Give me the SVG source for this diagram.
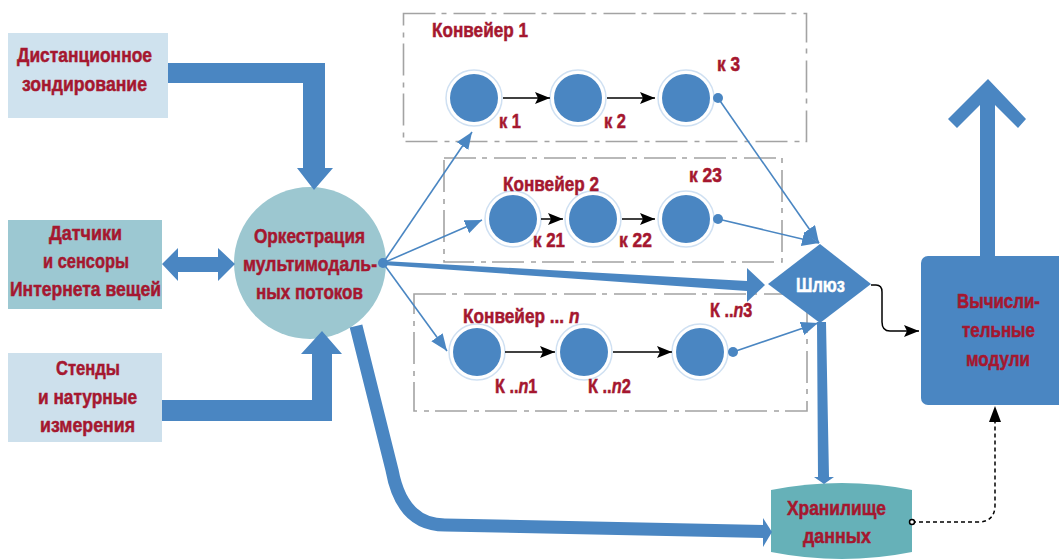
<svg xmlns="http://www.w3.org/2000/svg" width="1059" height="560" viewBox="0 0 1059 560">
<defs>
<marker id="bk" markerUnits="userSpaceOnUse" markerWidth="16" markerHeight="14" refX="15" refY="7" orient="auto"><path d="M0 1L15 7L0 13L3 7Z" fill="#000"/></marker>
<marker id="bl" markerUnits="userSpaceOnUse" markerWidth="18" markerHeight="16" refX="17" refY="7" orient="auto"><path d="M0 0L17 7L0 14Z" fill="#4a86c2"/></marker>
</defs>
<style>
text{font-family:"Liberation Sans",Arial,sans-serif;font-weight:700;font-size:20.5px;fill:#a5172f;stroke:#a5172f;stroke-width:.5;text-anchor:start}
text.w{fill:#fff;stroke:#fff}
.f{fill:#4a86c2}
.box{fill:none;stroke:#a3a3a3;stroke-width:1.6;stroke-dasharray:32 6 5 7}
.thin{fill:none;stroke:#4a86c2;stroke-width:1.6;marker-end:url(#bl)}
.blk{fill:none;stroke:#000;stroke-width:1.5;marker-end:url(#bk)}
.ring{fill:#fff;stroke:#cfe0f2;stroke-width:1.5}
</style>
<rect width="1059" height="560" fill="#fff"/>
<g id="conveyor-boxes">
<rect class="box" x="403.500" y="13.500" width="403" height="128"/>
<rect class="box" x="444" y="158" width="338" height="104"/>
<rect class="box" x="414" y="294" width="393" height="117"/>
</g>
<g id="remote"><rect x="8" y="33" width="160" height="85" fill="#cfe2ee"/><text x="17" y="62" textLength="135" lengthAdjust="spacingAndGlyphs">Дистанционное</text><text x="22" y="91" textLength="125" lengthAdjust="spacingAndGlyphs">зондирование</text></g>
<g id="sensors"><rect x="8" y="220" width="154" height="89" fill="#9cc8d2"/><text x="49" y="240" textLength="73" lengthAdjust="spacingAndGlyphs">Датчики</text><text x="43" y="268" textLength="86" lengthAdjust="spacingAndGlyphs">и сенсоры</text><text x="10" y="296" textLength="151" lengthAdjust="spacingAndGlyphs">Интернета вещей</text></g>
<g id="stands"><rect x="8" y="353" width="154" height="89" fill="#cde0ec"/><text x="56" y="375" textLength="64" lengthAdjust="spacingAndGlyphs">Стенды</text><text x="38" y="404" textLength="99" lengthAdjust="spacingAndGlyphs">и натурные</text><text x="40" y="432" textLength="95" lengthAdjust="spacingAndGlyphs">измерения</text></g>
<g id="orchestration"><circle cx="310" cy="263" r="76" fill="#9cc7d0"/><text x="254" y="243" textLength="111" lengthAdjust="spacingAndGlyphs">Оркестрация</text><text x="243" y="271" textLength="134" lengthAdjust="spacingAndGlyphs">мультимодаль-</text><text x="256" y="299" textLength="107" lengthAdjust="spacingAndGlyphs">ных потоков</text></g>
<g id="conveyor1"><text x="432" y="37" textLength="96" lengthAdjust="spacingAndGlyphs">Конвейер 1</text>
<g id="k1"><circle class="ring" cx="474" cy="98" r="28"/><circle class="f" cx="474" cy="98" r="24"/><text x="499" y="128" textLength="22" lengthAdjust="spacingAndGlyphs">к 1</text></g>
<g id="k2"><circle class="ring" cx="578" cy="98" r="28"/><circle class="f" cx="578" cy="98" r="24"/><text x="604" y="128" textLength="22" lengthAdjust="spacingAndGlyphs">к 2</text></g>
<g id="k3"><circle class="ring" cx="686" cy="98" r="28"/><circle class="f" cx="686" cy="98" r="24"/><circle class="f" cx="718" cy="98" r="5"/><text x="717" y="71" textLength="23" lengthAdjust="spacingAndGlyphs">к 3</text></g></g>
<g id="conveyor2">
<g id="k21"><circle class="ring" cx="513" cy="219" r="28"/><circle class="f" cx="513" cy="219" r="24"/></g>
<g id="k22"><circle class="ring" cx="593" cy="219" r="28"/><circle class="f" cx="593" cy="219" r="24"/></g>
<g id="k23"><circle class="ring" cx="686" cy="219" r="28"/><circle class="f" cx="686" cy="219" r="24"/><circle class="f" cx="718" cy="219" r="5"/></g>
<text x="503" y="191" textLength="96" lengthAdjust="spacingAndGlyphs">Конвейер 2</text><text x="533" y="247" textLength="32" lengthAdjust="spacingAndGlyphs">к 21</text><text x="619" y="247" textLength="33" lengthAdjust="spacingAndGlyphs">к 22</text><text x="689" y="182" textLength="33" lengthAdjust="spacingAndGlyphs">к 23</text></g>
<g id="conveyorn">
<g id="kn1"><circle class="ring" cx="477" cy="352" r="28"/><circle class="f" cx="477" cy="352" r="24"/></g>
<g id="kn2"><circle class="ring" cx="584" cy="352" r="28"/><circle class="f" cx="584" cy="352" r="24"/></g>
<g id="kn3"><circle class="ring" cx="700" cy="352" r="28"/><circle class="f" cx="700" cy="352" r="24"/><circle class="f" cx="733" cy="352" r="5"/></g>
<text transform="translate(463 323) scale(.84 1)">Конвейер ... <tspan font-style="italic">n</tspan></text><text transform="translate(495 393) scale(.79 1)">К ..<tspan font-style="italic">n</tspan>1</text><text transform="translate(588 393) scale(.8 1)">К ..<tspan font-style="italic">n</tspan>2</text><text transform="translate(710 317) scale(.79 1)">К ..<tspan font-style="italic">n</tspan>3</text></g>
<g id="gateway"><path class="f" d="M768 284L820 244L871 284L820 323Z"/><text class="w" x="796" y="292" textLength="49" lengthAdjust="spacingAndGlyphs">Шлюз</text></g>
<g id="compute"><rect x="921" y="256" width="150" height="149" rx="7" fill="#4a86c2"/><text x="957" y="308" textLength="83" lengthAdjust="spacingAndGlyphs">Вычисли-</text><text x="962" y="337" textLength="73" lengthAdjust="spacingAndGlyphs">тельные</text><text x="966" y="366" textLength="64" lengthAdjust="spacingAndGlyphs">модули</text></g>
<g id="storage"><path d="M771 490Q842 476 912 490V552Q842 566 771 552Z" fill="#66b1b8"/><text x="787" y="515" textLength="99" lengthAdjust="spacingAndGlyphs">Хранилище</text><text x="803" y="543" textLength="68" lengthAdjust="spacingAndGlyphs">данных</text></g>
<g id="connectors">
<path class="f" d="M168 63H325V168H333L314 190L297 168H303V83H168Z"/>
<path class="f" d="M162 400H312V354H301L322 331L342 354H332V421H162Z"/>
<path class="f" d="M162 264L178 248V257H218V248L235 264L218 281V272H178V281Z"/>
<path d="M356 326L392 470Q402 525 445 525L764 531.500" fill="none" stroke="#4a86c2" stroke-width="13"/>
<path class="f" d="M763 518L772 532L763 547Z"/>
<path class="f" d="M383 261L747 281V291L383 265Z"/>
<path class="f" d="M747 268L765 285L747 302Z"/>
<circle class="f" cx="383" cy="263" r="5"/>
<path class="thin" d="M383 263L472 132"/>
<path class="thin" d="M383 263L482 220"/>
<path class="thin" d="M383 263L447 351"/>
<path class="thin" d="M718 98L819 243"/>
<path class="thin" d="M718 219L819 243"/>
<path class="thin" d="M733 352L818 323"/>
<path class="f" d="M817 322H826L829 477H834L824 484L814 477H818Z"/>
<path class="f" d="M980 258V105L957 128L948 119L988 79L1026 119L1018 128L995 105V258Z"/>
<path class="blk" d="M871 285H876Q882 285 882 292V322Q882 331 890 331H919"/>
<path d="M912 522H978Q995 522 995 505V420" fill="none" stroke="#000" stroke-width="1.5" stroke-dasharray="4 3"/>
<path d="M989 422L995 406L1001 422Z" fill="#000"/>
<circle cx="912" cy="522" r="2.500" fill="#fff" stroke="#000" stroke-width="1.500"/>
<path class="blk" d="M503 98H550"/>
<path class="blk" d="M607 98H655"/>
<path class="blk" d="M541 219H563"/>
<path class="blk" d="M622 219H655"/>
<path class="blk" d="M505 352H555"/>
<path class="blk" d="M613 352H672"/>
</g>
</svg>
